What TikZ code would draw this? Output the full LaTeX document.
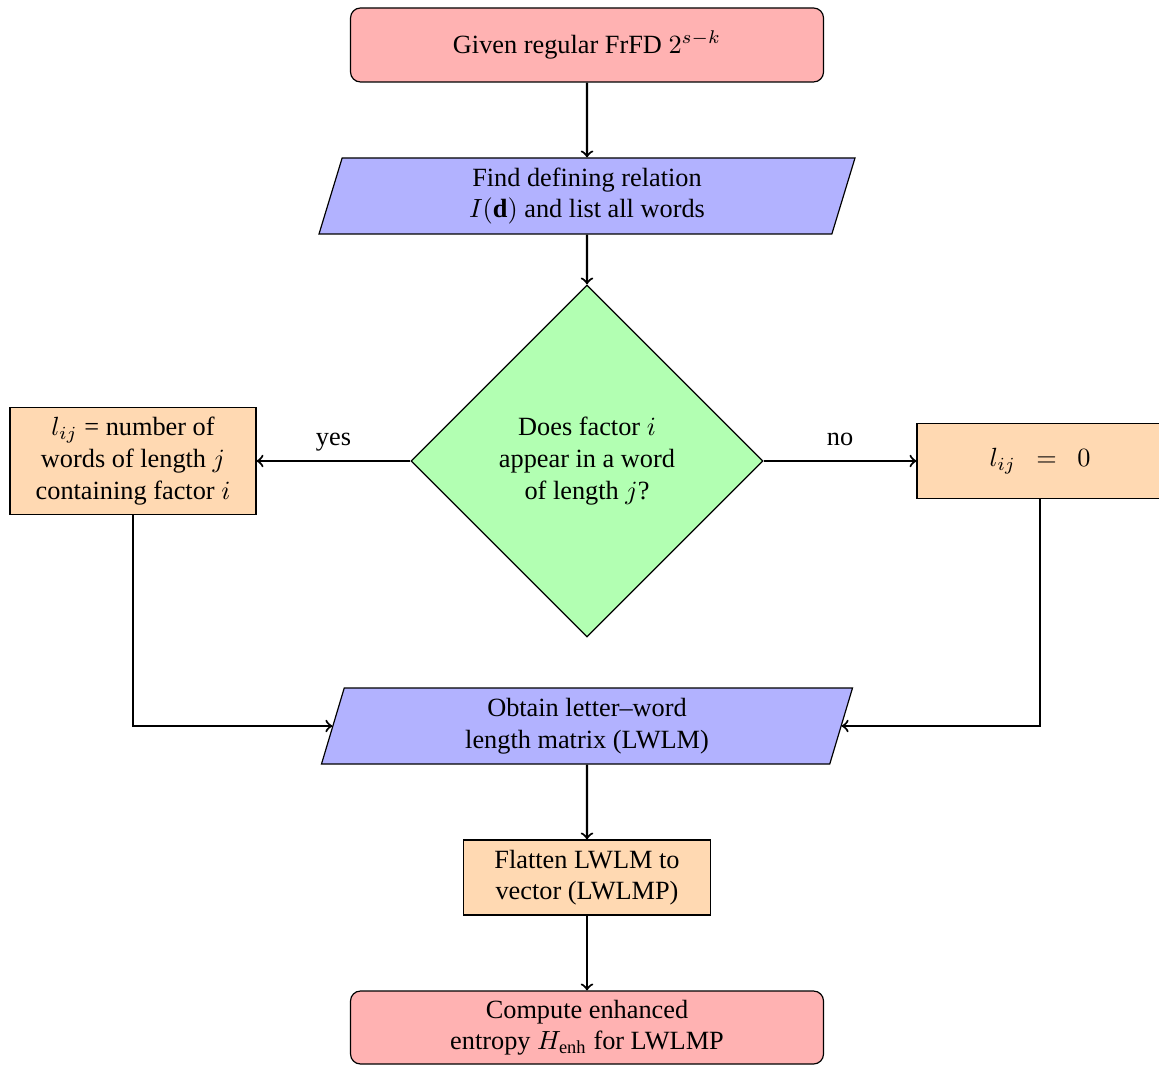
\documentclass[tikz,border=0pt]{standalone}
\usepackage{fontspec}
\setmainfont{Liberation Serif}
\usetikzlibrary{shapes.geometric}
% one drawing unit
\newcommand{\pxu}{0.38pt}
\tikzset{
  base/.style={draw=black, line width=0.45pt, align=center, inner sep=2pt,
    font=\fontsize{10}{12}\selectfont},
  startstop/.style={base, rectangle, rounded corners=3.8pt, fill=red!30},
  iobox/.style={base, trapezium, trapezium left angle=71, trapezium right angle=109,
    trapezium stretches body, fill=blue!30},
  decision/.style={base, diamond, aspect=1, fill=green!30},
  process/.style={base, rectangle, fill=orange!30},
  flow/.style={->, line width=0.8pt},
  branchlabel/.style={midway, anchor=base, yshift=15*\pxu,
    font=\fontsize{10}{12}\selectfont},
}
\begin{document}
\begin{tikzpicture}[x=\pxu, y=-\pxu]
\useasboundingbox (0,0) rectangle (1159,1065);

% nodes
\node[startstop, minimum width=473*\pxu, minimum height=74*\pxu] (start) at (587,45)
  {Given regular FrFD $2^{s-k}$};
\node[iobox, minimum width=536*\pxu, minimum height=76*\pxu] (find) at (587,196)
  {Find defining relation\\$I(\mathbf{d})$ and list all words};
\node[decision, minimum width=352*\pxu, minimum height=352*\pxu] (dec) at (587,461)
  {Does factor $i$\\appear in a word\\of length $j$?};
\node[process, minimum width=246*\pxu, minimum height=107*\pxu] (yesbox) at (133,461)
  {$l_{ij}$\ = number of\\words of length $j$\\containing factor $i$};
\node[process, minimum width=246*\pxu, minimum height=75*\pxu] (nobox) at (1040,461)
  {$l_{ij}\ \ =\ \ 0$};
\node[iobox, minimum width=531*\pxu, minimum height=76*\pxu] (lwlm) at (587,726)
  {Obtain letter--word\\length matrix (LWLM)};
\node[process, minimum width=247*\pxu, minimum height=75*\pxu] (flat) at (587,877.5)
  {Flatten LWLM to\\vector (LWLMP)};
\node[startstop, minimum width=473*\pxu, minimum height=73*\pxu] (end) at (587,1027.5)
  {Compute enhanced\\entropy $H_{\mathrm{enh}}$ for LWLMP};

% connectors
\draw[flow] (start) -- (find);
\draw[flow] (find) -- (dec);
\draw[flow] (dec.west) -- node[branchlabel] {yes} (yesbox.east);
\draw[flow] (dec.east) -- node[branchlabel] {no} (nobox.west);
\draw[flow] (yesbox.south) |- (lwlm.west);
\draw[flow] (nobox.south) |- (lwlm.east);
\draw[flow] (lwlm) -- (flat);
\draw[flow] (flat) -- (end);
\end{tikzpicture}
\end{document}
